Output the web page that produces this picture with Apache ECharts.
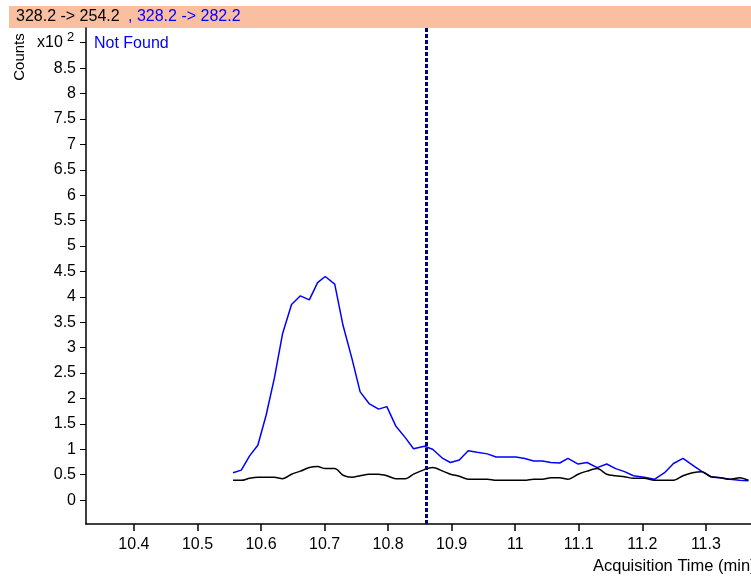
<!DOCTYPE html>
<html>
<head>
<meta charset="utf-8">
<script src="https://cdn.jsdelivr.net/npm/echarts@6/dist/echarts.min.js"></script>
<style>
    html, body { margin: 0; padding: 0; background: #fff; }
    #chart { width: 751px; height: 576px; }
</style>
</head>
<body>
<div id="chart"></div>
<script>
// acquisition times (min) of the scans
var times = [
    10.556, 10.569, 10.582, 10.595, 10.608, 10.621, 10.634, 10.648, 10.662, 10.676,
    10.689, 10.701, 10.716, 10.729, 10.743, 10.756, 10.770, 10.785, 10.798, 10.812,
    10.827, 10.840, 10.857, 10.870, 10.886, 10.898, 10.912, 10.926, 10.940, 10.956,
    10.970, 10.985, 11.001, 11.015, 11.029, 11.043, 11.056, 11.070, 11.083, 11.099,
    11.113, 11.129, 11.144, 11.158, 11.172, 11.186, 11.203, 11.219, 11.235, 11.249,
    11.264, 11.279, 11.294, 11.308, 11.323, 11.338, 11.353, 11.367
];
// 328.2 -> 282.2 (counts x10^2)
var blueCounts = [
    0.54, 0.59, 0.87, 1.08, 1.67, 2.40, 3.28, 3.85, 4.02, 3.94,
    4.28, 4.40, 4.25, 3.44, 2.79, 2.13, 1.90, 1.79, 1.84, 1.46,
    1.23, 1.01, 1.06, 1.00, 0.82, 0.74, 0.79, 0.97, 0.94, 0.91,
    0.85, 0.85, 0.85, 0.82, 0.77, 0.77, 0.74, 0.73, 0.82, 0.71,
    0.74, 0.64, 0.71, 0.62, 0.56, 0.48, 0.45, 0.41, 0.54, 0.72,
    0.82, 0.69, 0.56, 0.46, 0.44, 0.41, 0.39, 0.38
];
// 328.2 -> 254.2 (counts x10^2)
var blackCounts = [
    0.39, 0.39, 0.43, 0.45, 0.45, 0.45, 0.42, 0.51, 0.57, 0.64,
    0.66, 0.62, 0.62, 0.49, 0.45, 0.48, 0.51, 0.51, 0.48, 0.42,
    0.42, 0.51, 0.60, 0.64, 0.57, 0.51, 0.47, 0.41, 0.41, 0.41,
    0.39, 0.39, 0.39, 0.39, 0.41, 0.41, 0.44, 0.44, 0.41, 0.51,
    0.57, 0.62, 0.51, 0.48, 0.46, 0.43, 0.43, 0.39, 0.39, 0.39,
    0.48, 0.54, 0.56, 0.46, 0.44, 0.41, 0.44, 0.39
];
var xTicks = [10.4, 10.5, 10.6, 10.7, 10.8, 10.9, 11, 11.1, 11.2, 11.3];
var yTicks = [0, 0.5, 1, 1.5, 2, 2.5, 3, 3.5, 4, 4.5, 5, 5.5, 6, 6.5, 7, 7.5, 8, 8.5, 9];
var markerTime = 10.858;

var font = '"Liberation Sans", Arial, sans-serif';
var chart = echarts.init(document.getElementById('chart'), null, { renderer: 'canvas' });

function pairs(ys) {
    return times.map(function (t, i) { return [t, ys[i]]; });
}

chart.setOption({
    animation: false,
    grid: { left: 86, right: 0, top: 28, bottom: 52 },
    xAxis: {
        type: 'value',
        min: 10.3246,
        max: 11.371,
        axisLine: { show: true, onZero: false, lineStyle: { color: '#000', width: 1.5 } },
        axisTick: { show: true, length: 7, customValues: xTicks, lineStyle: { color: '#000', width: 1.5 } },
        axisLabel: {
            customValues: xTicks,
            color: '#000', fontSize: 16, fontFamily: font, margin: 13
        },
        splitLine: { show: false }
    },
    yAxis: {
        type: 'value',
        min: -0.47,
        max: 9.29,
        axisLine: { show: true, onZero: false, lineStyle: { color: '#000', width: 1.5 } },
        axisTick: { show: true, length: 6, customValues: yTicks, lineStyle: { color: '#000' } },
        axisLabel: {
            customValues: yTicks,
            color: '#000', fontSize: 16, fontFamily: font, margin: 10,
            formatter: function (v) { return v === 9 ? '' : String(v); }
        },
        splitLine: { show: false }
    },
    series: [
        {
            name: '328.2 -> 282.2',
            type: 'line',
            data: pairs(blueCounts),
            showSymbol: false,
            lineStyle: { color: '#0000ff', width: 1.5 },
            markLine: {
                silent: true,
                symbol: 'none',
                label: { show: false },
                lineStyle: { color: '#000080', width: 3, type: [4, 2] },
                data: [{ xAxis: markerTime }]
            }
        },
        {
            name: '328.2 -> 254.2',
            type: 'line',
            data: pairs(blackCounts),
            showSymbol: false,
            smooth: 0.3,
            lineStyle: { color: '#000', width: 1.5 }
        }
    ],
    graphic: [
        { type: 'rect', shape: { x: 9, y: 6, width: 742, height: 22 }, style: { fill: '#fabfa0' }, silent: true },
        { type: 'text', x: 16, y: 17, style: { text: '328.2 -> 254.2', fill: '#000', font: '16px ' + font, textVerticalAlign: 'middle' } },
        { type: 'text', x: 128, y: 17, style: { text: ', 328.2 -> 282.2', fill: '#0000ff', font: '16px ' + font, textVerticalAlign: 'middle' } },
        { type: 'text', x: 20, y: 57, rotation: Math.PI / 2, style: { text: 'Counts', fill: '#000', font: '15px ' + font, textAlign: 'center', textVerticalAlign: 'middle' } },
        { type: 'text', x: 37, y: 43, style: { text: 'x10', fill: '#000', font: '16px ' + font, textVerticalAlign: 'middle' } },
        { type: 'text', x: 67, y: 37, style: { text: '2', fill: '#000', font: '13px ' + font, textVerticalAlign: 'middle' } },
        { type: 'text', x: 94, y: 44, style: { text: 'Not Found', fill: '#0000ff', font: '16px ' + font, textVerticalAlign: 'middle' } },
        { type: 'text', x: 593, y: 566, style: { text: 'Acquisition Time (min)', fill: '#000', font: '16.5px ' + font, textVerticalAlign: 'middle' } }
    ]
});
</script>
</body>
</html>
